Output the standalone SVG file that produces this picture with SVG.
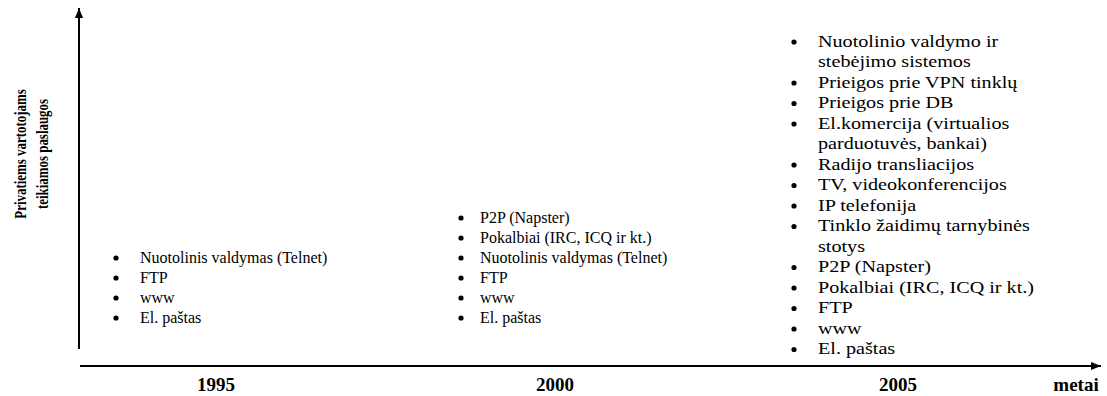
<svg xmlns="http://www.w3.org/2000/svg" width="1107" height="396" viewBox="0 0 1107 396">
<style>
.t{font-family:"Liberation Serif","Times New Roman",serif;font-size:16px;fill:#000}
.b{font-family:"Liberation Serif","Times New Roman",serif;font-size:19px;font-weight:bold;fill:#000}
.yl{font-family:"Liberation Serif","Times New Roman",serif;font-size:17px;font-weight:bold;fill:#000}
.ax{stroke:#000;stroke-width:2;fill:none}
</style>
<defs>
<marker id="arr" viewBox="0 0 10 10" refX="10" refY="5" markerWidth="5" markerHeight="5" orient="auto" markerUnits="strokeWidth">
<path d="M0,1 L10,5 L0,9 Z" fill="#000"/>
</marker>
<circle id="dot" r="2.6" fill="#000"/>
</defs>
<g id="connectors">
<line class="ax" x1="79" y1="349" x2="79" y2="8" marker-end="url(#arr)"/>
<line class="ax" x1="80" y1="366" x2="1101" y2="366" marker-end="url(#arr)"/>
</g>
<g id="ylabel">
<text class="yl" text-anchor="middle" transform="translate(26,154) rotate(-90) scale(0.76,1)">Privatiems vartotojams</text>
<text class="yl" text-anchor="middle" transform="translate(48,154) rotate(-90) scale(0.76,1)">teikiamos paslaugos</text>
</g>
<g id="xlabels">
<text class="b" x="216" y="391" text-anchor="middle">1995</text>
<text class="b" x="555" y="391" text-anchor="middle">2000</text>
<text class="b" x="898" y="391" text-anchor="middle">2005</text>
<text class="b" x="1076" y="391" text-anchor="middle">metai</text>
</g>
<g id="col1995">
<use href="#dot" x="116" y="258"/><text class="t" x="140" y="263">Nuotolinis valdymas (Telnet)</text>
<use href="#dot" x="116" y="278"/><text class="t" x="140" y="283">FTP</text>
<use href="#dot" x="116" y="298"/><text class="t" x="140" y="303">www</text>
<use href="#dot" x="116" y="318"/><text class="t" x="140" y="323">El. paštas</text>
</g>
<g id="col2000">
<use href="#dot" x="461" y="218"/><text class="t" x="480" y="223">P2P (Napster)</text>
<use href="#dot" x="461" y="238"/><text class="t" x="480" y="243">Pokalbiai (IRC, ICQ ir kt.)</text>
<use href="#dot" x="461" y="258"/><text class="t" x="480" y="263">Nuotolinis valdymas (Telnet)</text>
<use href="#dot" x="461" y="278"/><text class="t" x="480" y="283">FTP</text>
<use href="#dot" x="461" y="298"/><text class="t" x="480" y="303">www</text>
<use href="#dot" x="461" y="318"/><text class="t" x="480" y="323">El. paštas</text>
</g>
<g id="col2005">
<use href="#dot" x="794" y="42"/>
<use href="#dot" x="794" y="83"/>
<use href="#dot" x="794" y="103.5"/>
<use href="#dot" x="794" y="124"/>
<use href="#dot" x="794" y="165"/>
<use href="#dot" x="794" y="185.5"/>
<use href="#dot" x="794" y="206"/>
<use href="#dot" x="794" y="226.5"/>
<use href="#dot" x="794" y="267.5"/>
<use href="#dot" x="794" y="288"/>
<use href="#dot" x="794" y="308.5"/>
<use href="#dot" x="794" y="329"/>
<use href="#dot" x="794" y="349.5"/>
<g transform="translate(818 0) scale(1.26 1)">
<text class="t" x="0" y="47">Nuotolinio valdymo ir</text>
<text class="t" x="0" y="67.5">stebėjimo sistemos</text>
<text class="t" x="0" y="88">Prieigos prie VPN tinklų</text>
<text class="t" x="0" y="108.5">Prieigos prie DB</text>
<text class="t" x="0" y="129">El.komercija (virtualios</text>
<text class="t" x="0" y="149.5">parduotuvės, bankai)</text>
<text class="t" x="0" y="170">Radijo transliacijos</text>
<text class="t" x="0" y="190.5">TV, videokonferencijos</text>
<text class="t" x="0" y="211">IP telefonija</text>
<text class="t" x="0" y="231.5">Tinklo žaidimų tarnybinės</text>
<text class="t" x="0" y="252">stotys</text>
<text class="t" x="0" y="272.5">P2P (Napster)</text>
<text class="t" x="0" y="293">Pokalbiai (IRC, ICQ ir kt.)</text>
<text class="t" x="0" y="313.5">FTP</text>
<text class="t" x="0" y="334">www</text>
<text class="t" x="0" y="354.5">El. paštas</text>
</g>
</g>
</svg>
